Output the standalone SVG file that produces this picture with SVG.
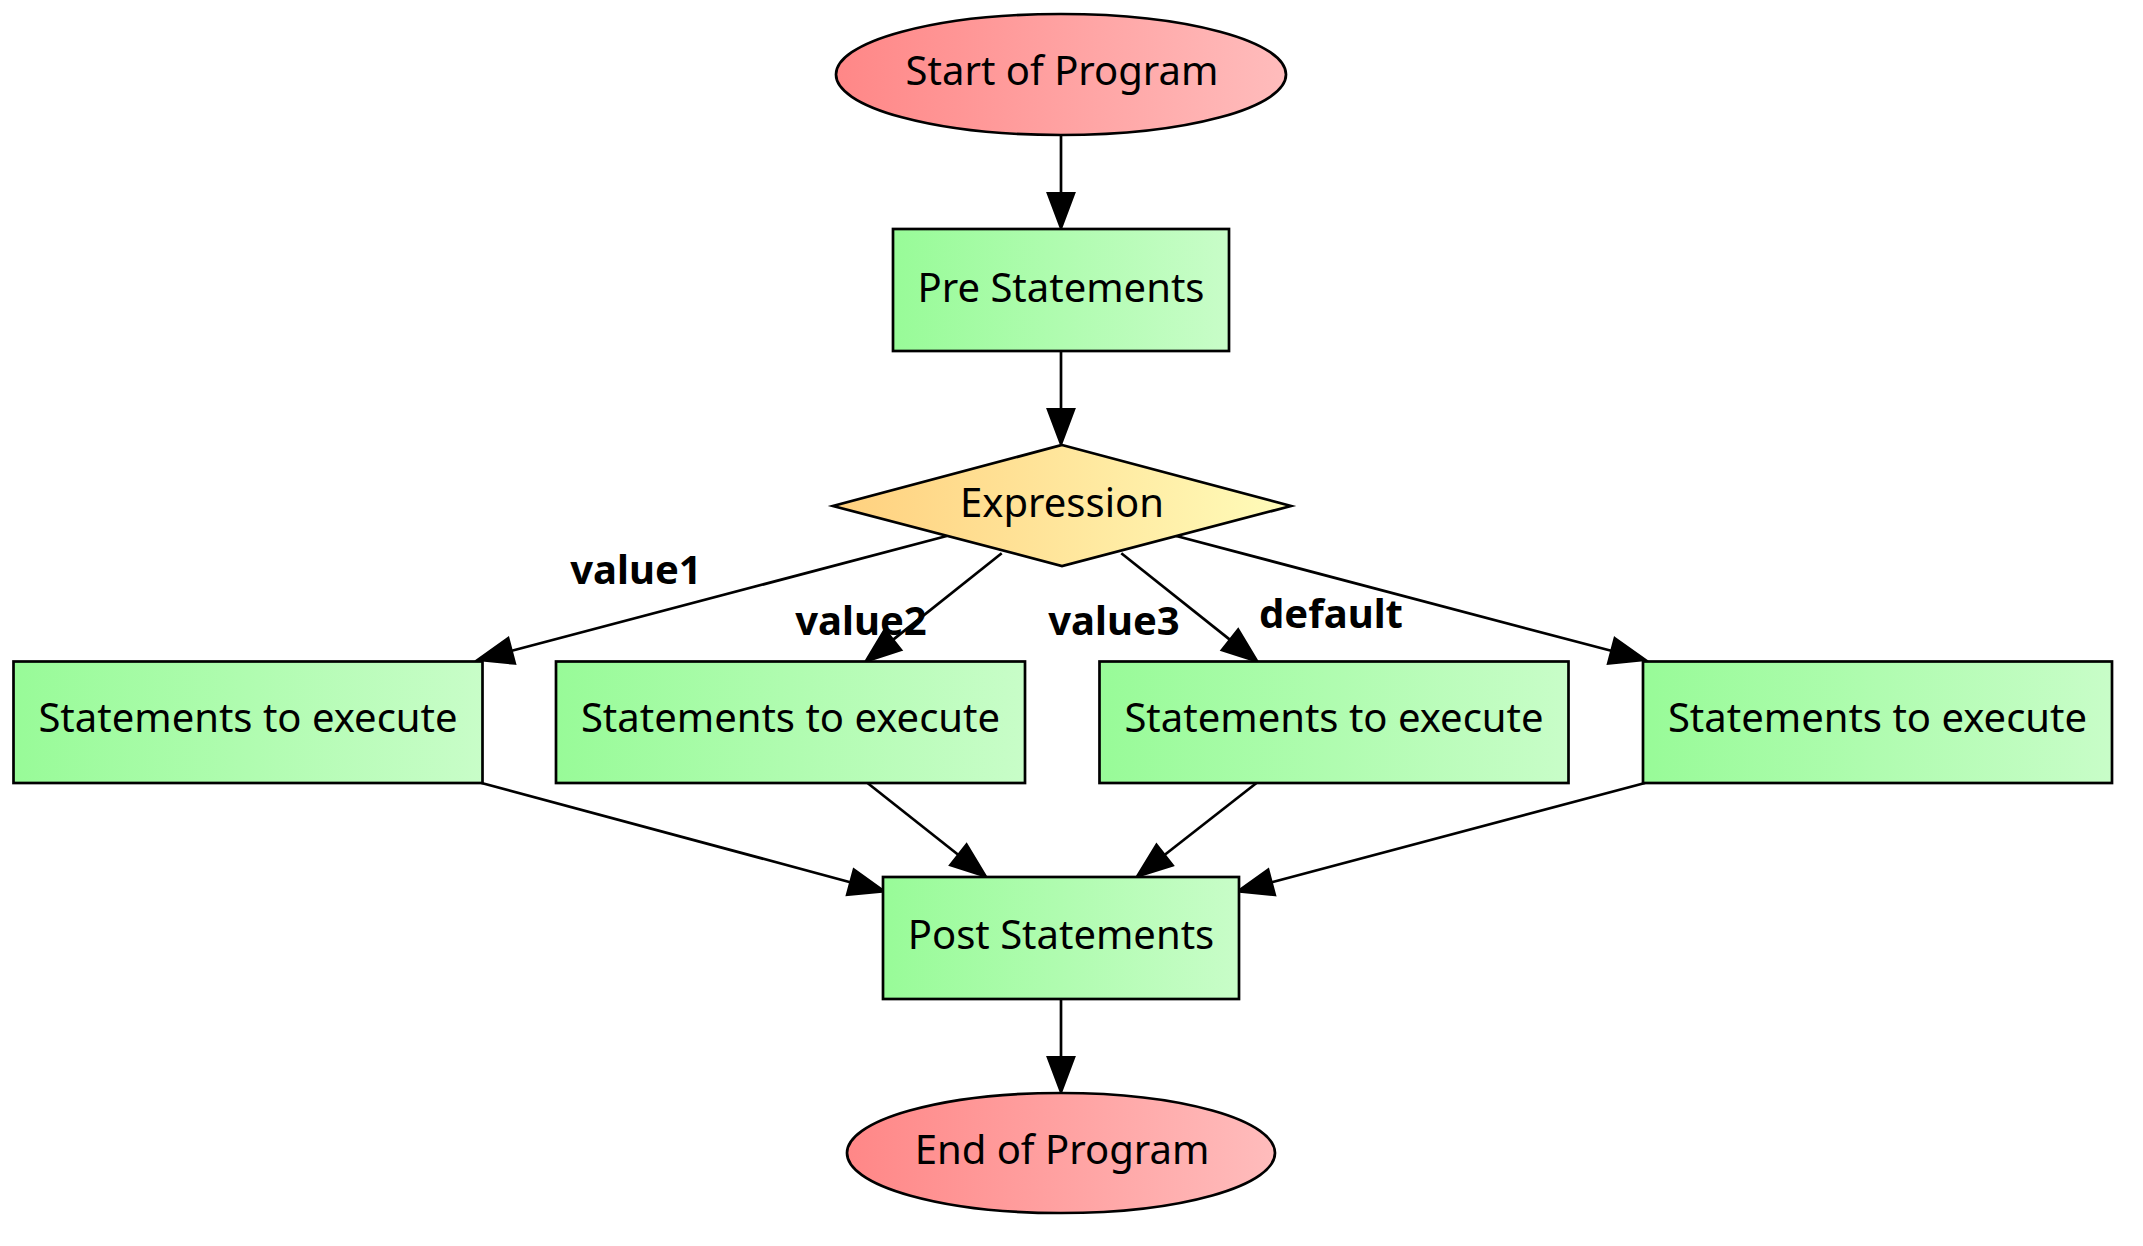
<svg xmlns="http://www.w3.org/2000/svg" width="2143" height="1246" viewBox="0 0 2143 1246">
<defs>
<linearGradient id="gRed" x1="0" y1="0" x2="1" y2="0">
<stop offset="0" stop-color="#ff8787"/>
<stop offset="1" stop-color="#ffbcbc"/>
</linearGradient>
<linearGradient id="gGreen" x1="0" y1="0" x2="1" y2="0">
<stop offset="0" stop-color="#98fb98"/>
<stop offset="1" stop-color="#c8fdc8"/>
</linearGradient>
<linearGradient id="gYellow" x1="0" y1="0" x2="1" y2="0">
<stop offset="0" stop-color="#ffd07e"/>
<stop offset="1" stop-color="#fffcba"/>
</linearGradient>
<marker id="arr" markerUnits="userSpaceOnUse" markerWidth="40" markerHeight="32" refX="0" refY="15" orient="auto" viewBox="-2 0 40 30" overflow="visible">
<path d="M0,1.5 L36,15 L0,28.5 Z" fill="#000" stroke="#000" stroke-width="2"/>
</marker>
<style>
.node { stroke: #000; stroke-width: 2.7; }
.lbl { font-family: "Noto Sans", "Open Sans", sans-serif; font-size: 40px; fill: #000; text-anchor: middle; }
.elbl { font-family: "Noto Sans", "Open Sans", sans-serif; font-size: 40px; font-weight: bold; fill: #000; text-anchor: middle; }
.edge { fill: none; stroke: #000; stroke-width: 2.7; marker-end: url(#arr); }
</style>
</defs>
<rect width="2143" height="1246" fill="#fff"/>

<g id="connectors">
<path class="edge" d="M1061,135 L1061,193"/>
<path class="edge" d="M1061,351 L1061,409"/>
<path class="edge" d="M946.7,536 L511.8,650.8"/>
<path class="edge" d="M1001.7,553.3 L893.2,639.6"/>
<path class="edge" d="M1121.3,553.3 L1229.8,639.6"/>
<path class="edge" d="M1176.3,536 L1611.2,650.8"/>
<path class="edge" d="M481.5,783 L850.2,882.2"/>
<path class="edge" d="M867.5,783 L958.2,854.7"/>
<path class="edge" d="M1256.5,783 L1164.8,854.8"/>
<path class="edge" d="M1645,783 L1271.8,882.3"/>
<path class="edge" d="M1061,999 L1061,1057"/>
<text class="elbl" x="636" y="584">value1</text>
<text class="elbl" x="861" y="635">value2</text>
<text class="elbl" x="1114" y="635">value3</text>
<text class="elbl" x="1331" y="628">default</text>
</g>

<g id="start">
<ellipse class="node" cx="1061" cy="74.5" rx="225" ry="60.5" fill="url(#gRed)"/>
<text class="lbl" x="1062" y="85">Start of Program</text>
</g>

<g id="pre">
<rect class="node" x="893" y="229" width="336" height="122" fill="url(#gGreen)"/>
<text class="lbl" x="1061" y="301.5">Pre Statements</text>
</g>

<g id="expression">
<polygon class="node" points="1062,445 1291,506 1062,566 833,506" fill="url(#gYellow)"/>
<text class="lbl" x="1062" y="517">Expression</text>
</g>

<g id="case1">
<rect class="node" x="13.5" y="661.5" width="469" height="121.5" fill="url(#gGreen)"/>
<text class="lbl" x="248" y="732">Statements to execute</text>
</g>

<g id="case2">
<rect class="node" x="556" y="661.5" width="469" height="121.5" fill="url(#gGreen)"/>
<text class="lbl" x="790.5" y="732">Statements to execute</text>
</g>

<g id="case3">
<rect class="node" x="1099.5" y="661.5" width="469" height="121.5" fill="url(#gGreen)"/>
<text class="lbl" x="1334" y="732">Statements to execute</text>
</g>

<g id="default">
<rect class="node" x="1643" y="661.5" width="469" height="121.5" fill="url(#gGreen)"/>
<text class="lbl" x="1877.5" y="732">Statements to execute</text>
</g>

<g id="post">
<rect class="node" x="883" y="877" width="356" height="122" fill="url(#gGreen)"/>
<text class="lbl" x="1061" y="948.5">Post Statements</text>
</g>

<g id="end">
<ellipse class="node" cx="1061" cy="1153" rx="214" ry="60" fill="url(#gRed)"/>
<text class="lbl" x="1062" y="1164">End of Program</text>
</g>
</svg>
